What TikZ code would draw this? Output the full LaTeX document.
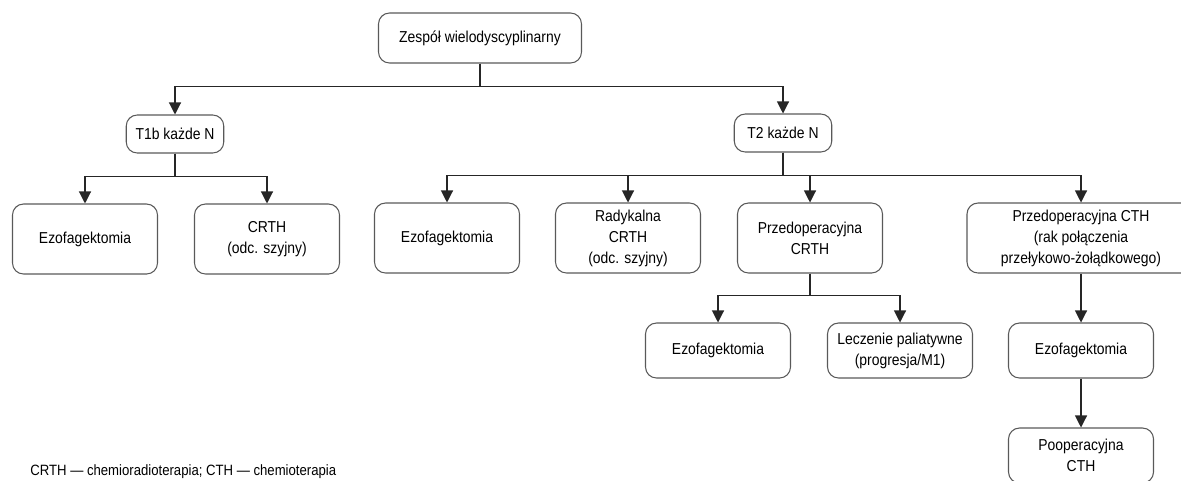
\documentclass[tikz,border=0pt]{standalone}
\usepackage{fontspec}
\setmainfont{Liberation Sans}[FakeStretch=0.88]
\usepackage{tikz}
\usetikzlibrary{arrows.meta, positioning}
\tikzstyle{box} = [rectangle, rounded corners=0.22cm, minimum width=2.9cm, minimum height=1.4cm, text centered, align=center, draw=black!65, line width=0.6pt, font=\fontsize{9}{12}\selectfont, text=black, inner sep=1pt]
\tikzstyle{stage} = [box, minimum width=1.95cm, minimum height=0.76cm]
\tikzstyle{result} = [box, minimum height=1.1cm]
\tikzstyle{arrow} = [line width=0.65pt, draw=black!85, -{Triangle[length=0.24cm, width=0.24cm]}]

\begin{document}
\begin{tikzpicture}[node distance=2.1cm]
\useasboundingbox (0,0) rectangle (23.62,-9.6);

% Root
\node (team) [box, minimum width=4.06cm, minimum height=1cm] at (9.6,-0.76) {Zespół wielodyscyplinarny};

% Stages
\node (t1b) [stage, below of=team, xshift=-6.1cm, yshift=0.18cm] {T1b każde N};
\node (t2) [stage, below of=team, xshift=6.06cm, yshift=0.2cm] {T2 każde N};

% T1b branch
\node (ezo1) [box, below of=t1b, xshift=-1.8cm] {Ezofagektomia};
\node (crth1) [box, below of=t1b, xshift=1.84cm] {CRTH\\(odc. szyjny)};

% T2 branch
\node (ezo2) [box, below of=t2, xshift=-6.72cm] {Ezofagektomia};
\node (radyk) [box, below of=t2, xshift=-3.1cm] {Radykalna\\CRTH\\(odc. szyjny)};
\node (precrth) [box, below of=t2, xshift=0.54cm] {Przedoperacyjna\\CRTH};
\node (precth) [box, minimum width=4.56cm, below of=t2, xshift=5.96cm] {Przedoperacyjna CTH\\(rak połączenia\\przełykowo-żołądkowego)};

% After preoperative treatment
\node (ezo3) [result, below of=precrth, xshift=-1.84cm, yshift=-0.15cm] {Ezofagektomia};
\node (pal) [result, below of=precrth, xshift=1.8cm, yshift=-0.15cm] {Leczenie paliatywne\\(progresja/M1)};
\node (ezo4) [result, below of=precth, yshift=-0.15cm] {Ezofagektomia};
\node (pooper) [result, below of=ezo4] {Pooperacyjna\\CTH};

% Legend
\node (legend) [anchor=base west, font=\fontsize{8.5}{10}\selectfont, text=black, inner sep=0pt] at (0.6,-9.5) {CRTH — chemioradioterapia; CTH — chemioterapia};

% Connections
\draw [arrow] (team.south) -- ++(0,-0.46) -| (t1b.north);
\draw [arrow] (team.south) -- ++(0,-0.46) -| (t2.north);
\draw [arrow] (t1b.south) -- ++(0,-0.46) -| (ezo1.north);
\draw [arrow] (t1b.south) -- ++(0,-0.46) -| (crth1.north);
\draw [arrow] (t2.south) -- ++(0,-0.46) -| (ezo2.north);
\draw [arrow] (t2.south) -- ++(0,-0.46) -| (radyk.north);
\draw [arrow] (t2.south) -- ++(0,-0.46) -| (precrth.north);
\draw [arrow] (t2.south) -- ++(0,-0.46) -| (precth.north);
\draw [arrow] (precrth.south) -- ++(0,-0.44) -| (ezo3.north);
\draw [arrow] (precrth.south) -- ++(0,-0.44) -| (pal.north);
\draw [arrow] (precth) -- (ezo4);
\draw [arrow] (ezo4) -- (pooper);

\end{tikzpicture}
\end{document}
